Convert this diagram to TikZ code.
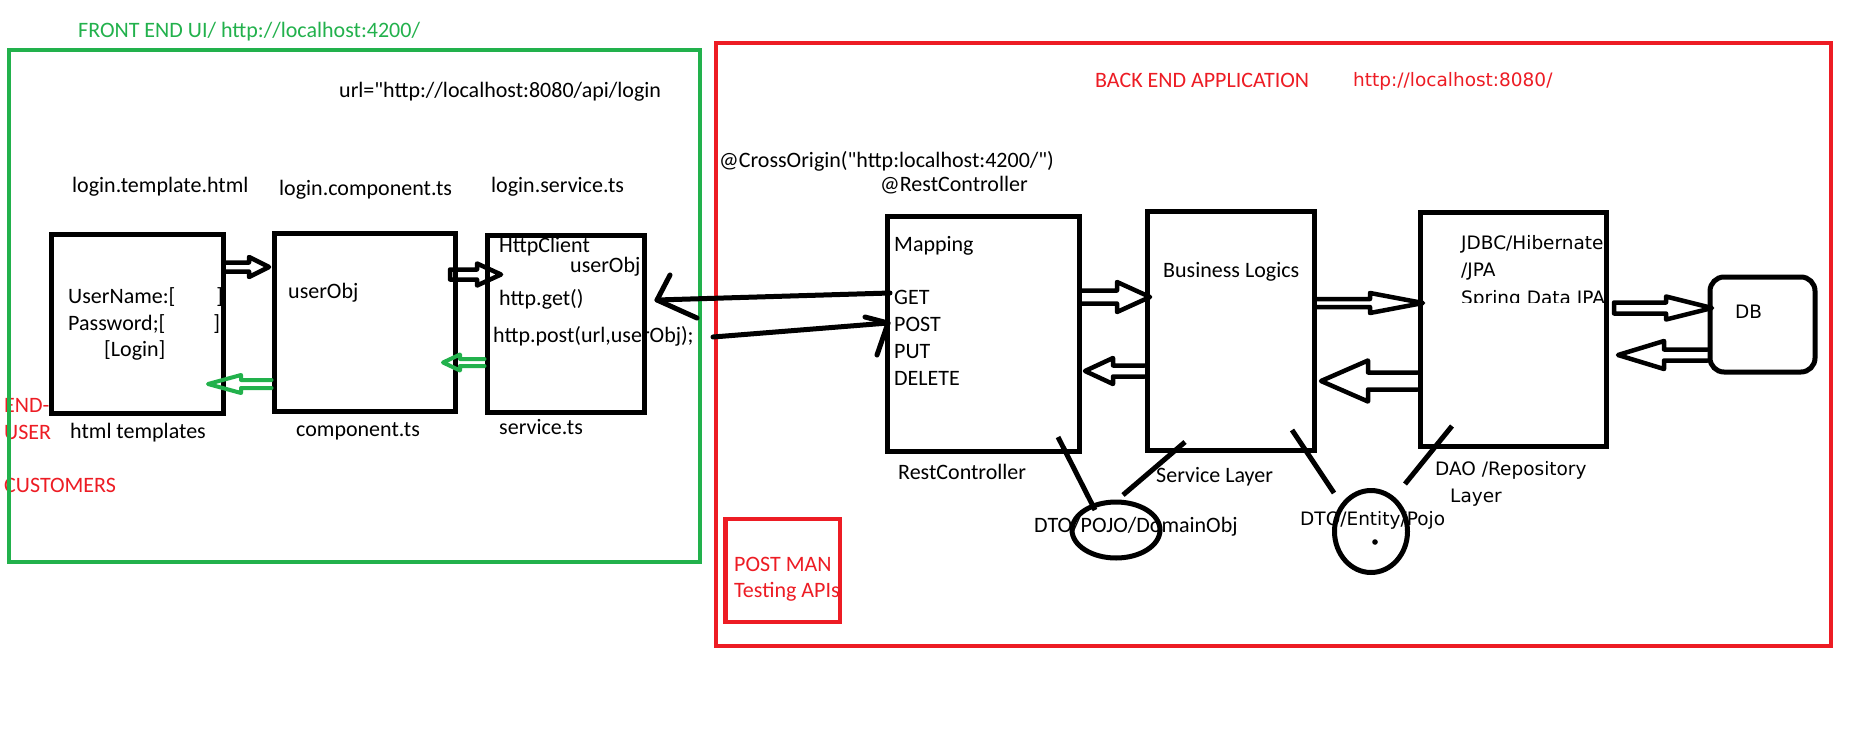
\documentclass[tikz,border=0pt]{standalone}
\usepackage{fontspec}
\setmainfont{Carlito}
\newfontfamily\calfont{Carlito}
\newfontfamily\verd{DejaVu Sans}
\usetikzlibrary{calc,shapes.geometric}
\definecolor{pgreen}{RGB}{34,177,76}
\definecolor{pred}{RGB}{237,28,36}
\newcommand\blockarrow[7]{%
  \coordinate (hb) at ($(#3)!#6!(#2)$);
  \draw[#1] ($(#2)!#4!90:(#3)$) -- ($(hb)!#4!90:(#3)$) -- ($(hb)!#5!90:(#3)$) -- (#3)
    -- ($(hb)!#5!-90:(#3)$) -- ($(hb)!#4!-90:(#3)$) -- ($(#2)!#4!-90:(#3)$) #7;
}
\tikzset{
  t/.style={inner sep=0pt, anchor=base west, font=\calfont\fontsize{22}{26}\selectfont},
  tv/.style={inner sep=0pt, anchor=base west, font=\verd\fontsize{18.5}{22}\selectfont},
  rt/.style={t, text=pred},
  gt/.style={t, text=pgreen},
  box/.style={draw, line width=5pt, inner sep=0pt, fill=none},
  frame/.style={draw, line width=4pt, inner sep=0pt},
  barrow/.style={draw, line width=4.5pt, line join=round, line cap=round},
  ln/.style={draw, line width=5pt, line cap=round, line join=round},
}
\begin{document}
\begin{tikzpicture}[x=1pt,y=-1pt]
\useasboundingbox[fill=white] (0,0) rectangle (1863,744);

% ---------- texts (front end) ----------
\node[gt] (fe) at (78,37) {FRONT END UI/ http://localhost:4200/};
\node[t] (url) at (339,97) {url="http://localhost:8080/api/login};
\node[t] (lt) at (72,192) {login.template.html};
\node[t] (lc) at (279,195) {login.component.ts};
\node[t] (ls) at (491,192) {login.service.ts};
\node[t] (un) at (68,303) {UserName:[\hspace*{41pt}]};
\node[t] (pw) at (68,330) {Password;[\hspace*{48pt}]};
\node[t] (lg) at (104,356) {[Login]};
\node[t] (uo2) at (288,298) {userObj};
\node[t] (hc) at (499,252) {HttpClient};
\node[t] (uo3) at (570,272) {userObj};
\node[t] (hg) at (499,305) {http.get()};
\node[t] (hp) at (493,342) {http.post(url,userObj);};
\node[t] (ht) at (70,438) {html templates};
\node[t] (ct) at (296,436) {component.ts};
\node[t] (st) at (499,434) {service.ts};
\node[rt] (eu1) at (4,412) {END-};
\node[rt] (eu2) at (4,439) {USER};
\node[rt] (cu) at (4,492) {CUSTOMERS};

% ---------- texts (back end) ----------
\node[rt] (bea) at (1095,87) {BACK END APPLICATION};
\node[tv, text=pred] (beu) at (1353,86) {http://localhost:8080/};
\node[t] (co) at (719,167) {@CrossOrigin("http:localhost:4200/")};
\node[t] (rc) at (880,191) {@RestController};
\node[t] (mp) at (894,251) {Mapping};
\node[t] (get) at (894,304) {GET};
\node[t] (post) at (894,331) {POST};
\node[t] (put) at (894,358) {PUT};
\node[t] (del) at (894,385) {DELETE};
\node[t] (bl) at (1163,277) {Business Logics};
\node[t] (rcl) at (898,479) {RestController};
\node[t] (sl) at (1156,482) {Service Layer};
\node[t] (dpd) at (1034,532) {DTO/POJO/DomainObj};
\node[rt] (pm1) at (734,571) {POST MAN};
\node[rt] (pm2) at (734,597) {Testing APIs};
\node[tv] (jd1) at (1461,249) {JDBC/Hibernate};
\node[tv] (jd2) at (1461,276) {/JPA};
\begin{scope}
  \clip (1440,200) rectangle (1606,302);
  \node[tv] (jd3) at (1461,304) {Spring Data JPA};
\end{scope}
\node[tv] (db) at (1735,318) {DB};
\node[tv] (dao1) at (1435,475) {DAO /Repository};
\node[tv] (dao2) at (1450,502) {Layer};
\node[tv] (dep) at (1300,525) {DTO/Entity/Pojo};

% ---------- frames ----------
\node[frame, draw=pgreen, minimum width=690.5pt, minimum height=511.5pt] (fegrp) at (354.25,305.75) {};
\node[frame, draw=pred, minimum width=1114.5pt, minimum height=603.5pt] (begrp) at (1273.25,344.25) {};
\node[frame, draw=pred, line width=4.5pt, minimum width=114.5pt, minimum height=103pt] (pmbox) at (782.75,570.5) {};

% ---------- boxes ----------
\node[box, minimum width=171.5pt, minimum height=178.5pt] (b1) at (137.25,323.75) {};
\node[box, minimum width=181pt, minimum height=178pt] (b2) at (364.5,322) {};
\node[box, minimum width=157pt, minimum height=177pt] (b3) at (565.5,323.5) {};
\node[box, minimum width=192pt, minimum height=235pt] (map) at (983,333.5) {};
\node[box, minimum width=167pt, minimum height=239pt] (bus) at (1230.5,330.5) {};
\node[box, minimum width=186pt, minimum height=234pt] (jdbc) at (1513,329) {};
\node[box, rounded corners=14pt, minimum width=105pt, minimum height=95pt] (dbb) at (1762.5,324.5) {};
\node[draw, ellipse, line width=5pt, inner sep=0pt, minimum width=88pt, minimum height=56pt] (e1) at (1116,530) {};
\node[draw, ellipse, line width=5pt, inner sep=0pt, minimum width=73pt, minimum height=82pt] (e2) at (1371,531.5) {};
\fill (1375,542) circle (2.8pt);

% ---------- block arrows ----------
\coordinate (a1t) at (b1.east |- 0,267);   \coordinate (a1h) at (269,267);
\blockarrow{barrow}{a1t}{a1h}{4.5pt}{10pt}{20pt}{}
\coordinate (a2t) at (450,274.5); \coordinate (a2h) at (501,274.5);
\blockarrow{barrow}{a2t}{a2h}{5pt}{11pt}{24pt}{-- cycle}
\coordinate (a3t) at (b3.west |- 0,362.5); \coordinate (a3h) at (443,362.5);
\blockarrow{barrow, draw=pgreen, line width=4pt}{a3t}{a3h}{3.5pt}{8pt}{17pt}{}
\coordinate (a4t) at (b2.west |- 0,384); \coordinate (a4h) at (208,384);
\blockarrow{barrow, draw=pgreen, line width=4pt}{a4t}{a4h}{4pt}{9pt}{33pt}{}
\coordinate (a7t) at (map.east |- 0,297); \coordinate (a7h) at (1150,297);
\blockarrow{barrow}{a7t}{a7h}{6.5pt}{15pt}{33pt}{}
\coordinate (a8t) at (bus.west |- 0,371); \coordinate (a8h) at (1085,371);
\blockarrow{barrow}{a8t}{a8h}{5.5pt}{13pt}{28pt}{}
\coordinate (a9t) at (bus.east |- 0,303); \coordinate (a9h) at (1423,303);
\blockarrow{barrow}{a9t}{a9h}{4pt}{10pt}{53pt}{}
\coordinate (a10t) at (jdbc.west |- 0,381); \coordinate (a10h) at (1321,381);
\blockarrow{barrow}{a10t}{a10h}{8.5pt}{20.5pt}{47pt}{}
\coordinate (a11t) at (1614,308); \coordinate (a11h) at (1712,308);
\blockarrow{barrow}{a11t}{a11h}{5.5pt}{11.5pt}{46pt}{-- cycle}
\coordinate (a12t) at (dbb.west |- 0,355); \coordinate (a12h) at (1618,355);
\blockarrow{barrow}{a12t}{a12h}{5.5pt}{14pt}{46pt}{}

% ---------- line arrows between front end and back end ----------
\coordinate (g1) at (890,293); \coordinate (g2) at (657,300);
\coordinate (ga) at (670,275); \coordinate (gb) at (697,318);
\draw[ln] (g1) -- (g2);
\draw[ln] (ga) -- (g2) -- (gb);
\coordinate (p1) at (713,337); \coordinate (p2) at (888,323);
\coordinate (pa) at (865,317); \coordinate (pb) at (877,355);
\draw[ln] (p1) -- (p2);
\draw[ln] (pa) -- (p2) -- (pb);

% ---------- lines to DTO ellipses ----------
\coordinate (l1a) at (1058,437); \coordinate (l1b) at (1095,510);
\coordinate (l2a) at (1185,442); \coordinate (l2b) at (1123,495);
\coordinate (l3a) at (1292,430); \coordinate (l3b) at (1334,493);
\coordinate (l4a) at (1452,426); \coordinate (l4b) at (1405,484);
\draw[ln, line cap=butt] (l1a) -- (l1b);
\draw[ln, line cap=butt] (l2a) -- (l2b);
\draw[ln, line cap=butt] (l3a) -- (l3b);
\draw[ln, line cap=butt] (l4a) -- (l4b);
\end{tikzpicture}
\end{document}
